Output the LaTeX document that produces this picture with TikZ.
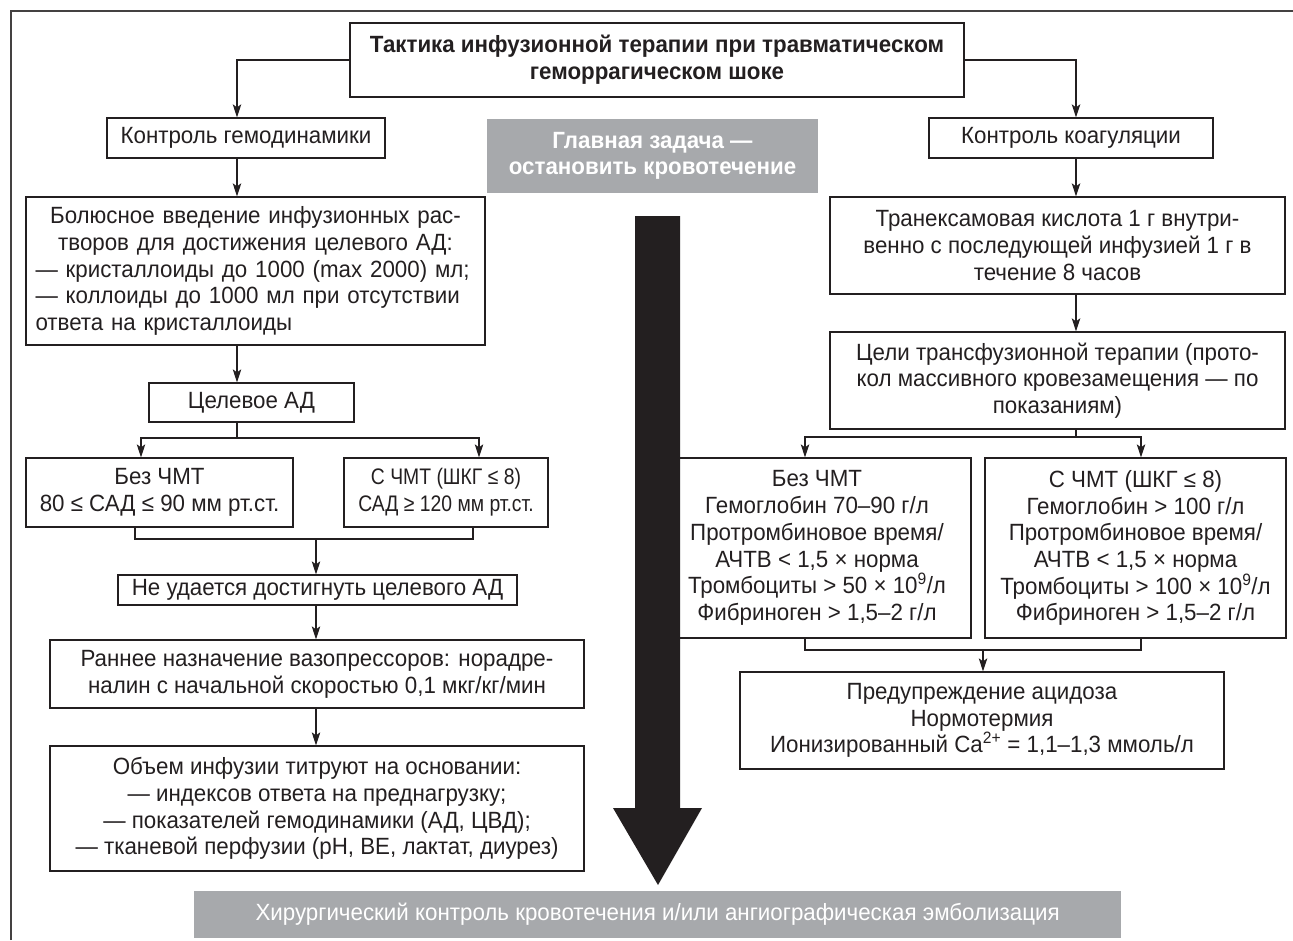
\documentclass[tikz,border=0pt]{standalone}
\usepackage{fontspec}
\setmainfont[FakeStretch=0.95]{Liberation Sans}
\newfontfamily\narrowfont[FakeStretch=0.86]{Liberation Sans}
\usetikzlibrary{arrows.meta,calc}
\definecolor{boxgray}{HTML}{A7A9AC}
\definecolor{ink}{HTML}{231F20}
\newcommand{\fs}{\fontsize{23.5pt}{26.7pt}\selectfont}
\newcommand{\fsn}{\narrowfont\fontsize{22.5pt}{26.7pt}\selectfont}
\begin{document}
\begin{tikzpicture}[x=1pt,y=-1pt,
  box/.style={draw=ink, line width=1.3pt, inner sep=0pt, align=center, font=\fs, text=ink},
  graybox/.style={fill=boxgray, draw=none, inner sep=0pt, align=center, font=\fs, text=white},
  conn/.style={draw=ink, line width=1.2pt},
  arr/.style={conn, -{Stealth[length=13pt,width=8.5pt,inset=3pt]}},
  frame/.style={draw=ink!85, line width=1.6pt}]
\useasboundingbox (0,0) rectangle (1293,940);
% frame
\coordinate (f0) at (11,940);
\coordinate (f1) at (11,11);
\coordinate (f2) at (1293,11);
\draw[frame] (f0) -- (f1) -- (f2);
% column coordinates
\coordinate (cl) at (237,0);
\coordinate (cr) at (1076,0);
\coordinate (cm) at (316,0);
% title
\node[box, font=\fs\bfseries, minimum width=614pt, minimum height=74pt] (title) at (657,60)
  {Тактика инфузионной терапии при травматическом\\геморрагическом шоке};
% gray top
\node[graybox, font=\fs\bfseries, minimum width=331pt, minimum height=74pt] (goal) at (652.5,156)
  {Главная задача —\\остановить кровотечение};
% left column
\node[box, minimum width=278pt, minimum height=40pt] (kg) at (246,138) {Контроль гемодинамики};
\node[box, minimum width=459pt, minimum height=148pt, text width=440pt, align=left] (bolus) at (255.5,271)
  {\makebox[440pt]{Болюсное введение инфузионных рас-}\\
   \makebox[440pt]{творов для достижения целевого АД:}\\
   \makebox[440pt][s]{— кристаллоиды до 1000 (max 2000) мл;}\\
   \makebox[440pt][s]{— коллоиды до 1000 мл при отсутствии}\\
   ответа на кристаллоиды};
\node[box, minimum width=205pt, minimum height=39pt] (tgt) at (251.5,402.5) {Целевое АД};
\node[box, minimum width=267pt, minimum height=69pt] (noL) at (159.5,492.5)
  {Без ЧМТ\\80 ≤ САД ≤ 90 мм рт.ст.};
\node[box, font=\fsn, minimum width=204pt, minimum height=69pt] (tbiL) at (446,492.5)
  {С ЧМТ (ШКГ ≤ 8)\\САД ≥ 120 мм рт.ст.};
\node[box, minimum width=399pt, minimum height=30pt] (fail) at (317.5,590)
  {Не удается достигнуть целевого АД};
\node[box, minimum width=534pt, minimum height=68pt] (early) at (317,674)
  {Раннее назначение вазопрессоров: норадре-\\налин с начальной скоростью 0,1 мкг/кг/мин};
\node[box, minimum width=534pt, minimum height=125pt] (vol) at (317,808.5)
  {Объем инфузии титруют на основании:\\— индексов ответа на преднагрузку;\\— показателей гемодинамики (АД, ЦВД);\\— тканевой перфузии (pH, BE, лактат, диурез)};
% right column
\node[box, minimum width=284pt, minimum height=40pt] (kc) at (1071,138) {Контроль коагуляции};
\node[box, minimum width=455pt, minimum height=97pt] (tran) at (1057.5,245.5)
  {Транексамовая кислота 1 г внутри-\\венно с последующей инфузией 1 г в\\течение 8 часов};
\node[box, minimum width=455pt, minimum height=97pt] (aims) at (1057.5,380.5)
  {Цели трансфузионной терапии (прото-\\кол массивного кровезамещения — по\\показаниям)};
\node[box, minimum width=308pt, minimum height=180pt] (noR) at (817,548)
  {Без ЧМТ\\Гемоглобин 70–90 г/л\\Протромбиновое время/\\АЧТВ < 1,5 × норма\\Тромбоциты > 50 × 10\textsuperscript{9}/л\\Фибриноген > 1,5–2 г/л};
\node[box, minimum width=301pt, minimum height=180pt] (tbiR) at (1135.5,548)
  {С ЧМТ (ШКГ ≤ 8)\\Гемоглобин > 100 г/л\\Протромбиновое время/\\АЧТВ < 1,5 × норма\\Тромбоциты > 100 × 10\textsuperscript{9}/л\\Фибриноген > 1,5–2 г/л};
\node[box, minimum width=484pt, minimum height=97pt] (prev) at (982,720.5)
  {Предупреждение ацидоза\\Нормотермия\\Ионизированный Ca\textsuperscript{2+} = 1,1–1,3 ммоль/л};
% bottom gray
\node[graybox, minimum width=927pt, minimum height=47pt] (surg) at (657.5,914.5)
  {Хирургический контроль кровотечения и/или ангиографическая эмболизация};
% big arrow
\fill[ink] (635,216) -- (680,216) -- (680,808) -- (702,808) -- (658,885) -- (613,808) -- (635,808) -- cycle;
% connectors
\draw[arr] (title.west) -| (cl |- kg.north);
\draw[arr] (title.east) -| (cr |- kc.north);
\draw[arr] (cl |- kg.south) -- (cl |- bolus.north);
\draw[arr] (cl |- bolus.south) -- (cl |- tgt.north);
\coordinate (sL) at (237,438);
\draw[conn] (cl |- tgt.south) -- (sL);
\draw[arr] (sL) -| ($(noL.north)+(-18.5,0)$);
\draw[arr] (sL) -| ($(tbiL.north)+(33,0)$);
\coordinate (jL) at (316,539);
\draw[conn] ($(noL.south)+(-24.5,0)$) |- (jL);
\draw[conn] ($(tbiL.south)+(27,0)$) |- (jL);
\draw[arr] (jL) -- (cm |- fail.north);
\draw[arr] (cm |- fail.south) -- (cm |- early.north);
\draw[arr] (cm |- early.south) -- (cm |- vol.north);
\draw[arr] (cr |- kc.south) -- (cr |- tran.north);
\draw[arr] (cr |- tran.south) -- (cr |- aims.north);
\coordinate (sR) at (1076,437);
\draw[conn] (cr |- aims.south) -- (sR);
\draw[arr] (sR) -| ($(noR.north)+(-12,0)$);
\draw[arr] (sR) -| ($(tbiR.north)+(5.5,0)$);
\coordinate (jR) at (983,650);
\draw[conn] ($(noR.south)+(-12,0)$) |- (jR);
\draw[conn] ($(tbiR.south)+(5.5,0)$) |- (jR);
\draw[arr] (jR) -- (prev.north -| jR);
\end{tikzpicture}
\end{document}
